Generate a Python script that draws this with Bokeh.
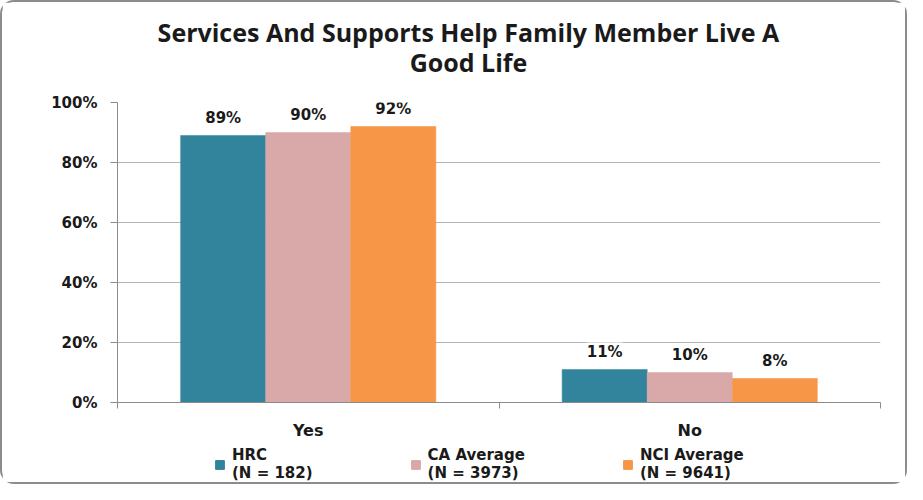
from bokeh.plotting import figure
from bokeh.layouts import column
from bokeh.models import (ColumnDataSource, FixedTicker, NumeralTickFormatter, Range1d,
                          Label, LabelSet, Legend, LegendItem)
from bokeh.transform import dodge
from bokeh.core.properties import value
from bokeh.embed import file_html
from bokeh.resources import INLINE

# ---- data ----
categories = ["Yes", "No"]
series_names = ["HRC\n(N = 182)", "CA Average\n(N = 3973)", "NCI Average\n(N = 9641)"]
hrc = [0.89, 0.11]
ca_avg = [0.90, 0.10]
nci_avg = [0.92, 0.08]
colors = ["#31849B", "#D9A9A9", "#F79646"]
y_ticks = [0, 0.2, 0.4, 0.6, 0.8, 1.0]
title_lines = ["Services And Supports Help Family Member Live A", "Good Life"]

W = 903
H0, H1, H2 = 90, 350, 40
FL, FR, FT, FB = 115, 25, 10, 37

src = ColumnDataSource(dict(
    x=[i + 0.5 for i in range(len(categories))],
    hrc=hrc, ca=ca_avg, nci=nci_avg,
    hrc_l=[f"{round(v*100)}%" for v in hrc],
    ca_l=[f"{round(v*100)}%" for v in ca_avg],
    nci_l=[f"{round(v*100)}%" for v in nci_avg],
))

# ---- title strip ----
t = figure(width=W, height=H0, output_backend="svg", toolbar_location=None,
           x_range=Range1d(0, len(categories)), y_range=Range1d(0, 1),
           min_border=0, x_axis_type=None, y_axis_type=None)
t.outline_line_color = None
t.grid.grid_line_color = None
t.border_fill_color = "white"
for txt, ys in zip(title_lines, [61, 31]):
    t.add_layout(Label(x=0.92, y=ys, y_units="screen", text=txt, text_align="center",
                       text_baseline="middle", text_font="Open Sans", text_font_style="bold",
                       text_font_size="25px", text_color="#1a1a1a"))

# ---- chart ----
p = figure(width=W, height=H1, output_backend="svg", toolbar_location=None,
           x_range=Range1d(0, len(categories)), y_range=Range1d(0, 1),
           min_border_left=FL, min_border_right=FR, min_border_top=FT, min_border_bottom=FB)
p.outline_line_color = None
p.background_fill_color = "white"
p.border_fill_color = "white"

bw = 0.223
offs = [-bw, 0, bw]
cols = ["hrc", "ca", "nci"]
for c, o, col in zip(cols, offs, colors):
    p.vbar(x=dodge("x", o, range=p.x_range), top=c, width=bw, source=src,
           fill_color=col, line_color=col, line_width=0.5)
    p.add_layout(LabelSet(x=dodge("x", o, range=p.x_range), y=c, text=c + "_l", source=src,
                          text_align="center", text_baseline="bottom", y_offset=9,
                          text_font=value("DejaVu Sans"), text_font_style="bold",
                          text_font_size="15px", text_color="#1a1a1a",
                          background_fill_color="white"))

p.xgrid.grid_line_color = None
p.ygrid.grid_line_color = "#B4B4B4"
p.ygrid.ticker = FixedTicker(ticks=y_ticks)

p.yaxis.ticker = FixedTicker(ticks=y_ticks)
p.yaxis.formatter = NumeralTickFormatter(format="0%")
p.yaxis.axis_line_color = "#8C8C8C"
p.yaxis.major_tick_line_color = "#8C8C8C"
p.yaxis.major_tick_out = 7
p.yaxis.major_tick_in = 0
p.yaxis.minor_tick_line_color = None
p.yaxis.major_label_standoff = 13
p.yaxis.major_label_text_font = "DejaVu Sans"
p.yaxis.major_label_text_font_style = "bold"
p.yaxis.major_label_text_font_size = "15px"
p.yaxis.major_label_text_color = "#1a1a1a"

p.xaxis.ticker = FixedTicker(ticks=[i + 0.5 for i in range(len(categories))],
                             minor_ticks=list(range(len(categories) + 1)))
p.xaxis.major_label_overrides = {i + 0.5: c for i, c in enumerate(categories)}
p.xaxis.axis_line_color = "#8C8C8C"
p.xaxis.major_tick_line_color = None
p.xaxis.minor_tick_line_color = "#8C8C8C"
p.xaxis.minor_tick_out = 6
p.xaxis.minor_tick_in = 0
p.xaxis.major_label_standoff = 12
p.xaxis.major_label_text_font = "DejaVu Sans"
p.xaxis.major_label_text_font_style = "bold"
p.xaxis.major_label_text_font_size = "16px"
p.xaxis.major_label_text_color = "#1a1a1a"

# ---- legend strip ----
q = figure(width=W, height=H2, output_backend="svg", toolbar_location=None,
           x_range=Range1d(0, len(categories)), y_range=Range1d(5, 6),
           min_border=0, x_axis_type=None, y_axis_type=None)
q.outline_line_color = None
q.grid.grid_line_color = None
q.border_fill_color = "white"
leg_rends = [q.vbar(x="x", top=c, width=bw, source=src, fill_color=col, line_color=col)
             for c, col in zip(cols, colors)]
items = [LegendItem(label=n, renderers=[r]) for n, r in zip(series_names, leg_rends)]
leg = Legend(items=items, orientation="horizontal", location=(97, 0),
             glyph_width=11, glyph_height=11, label_standoff=7, spacing=97,
             padding=0, margin=0, border_line_color=None, background_fill_alpha=0,
             label_text_font="DejaVu Sans", label_text_font_style="bold",
             label_text_font_size="15px", label_text_color="#1a1a1a",
             label_text_line_height=1.3)
q.add_layout(leg, "center")

layout = column(t, p, q, spacing=0,
                styles={"border": "2px solid #8C8C8C", "border-radius": "14px"})

open("out.html", "w").write(file_html(layout, INLINE))
